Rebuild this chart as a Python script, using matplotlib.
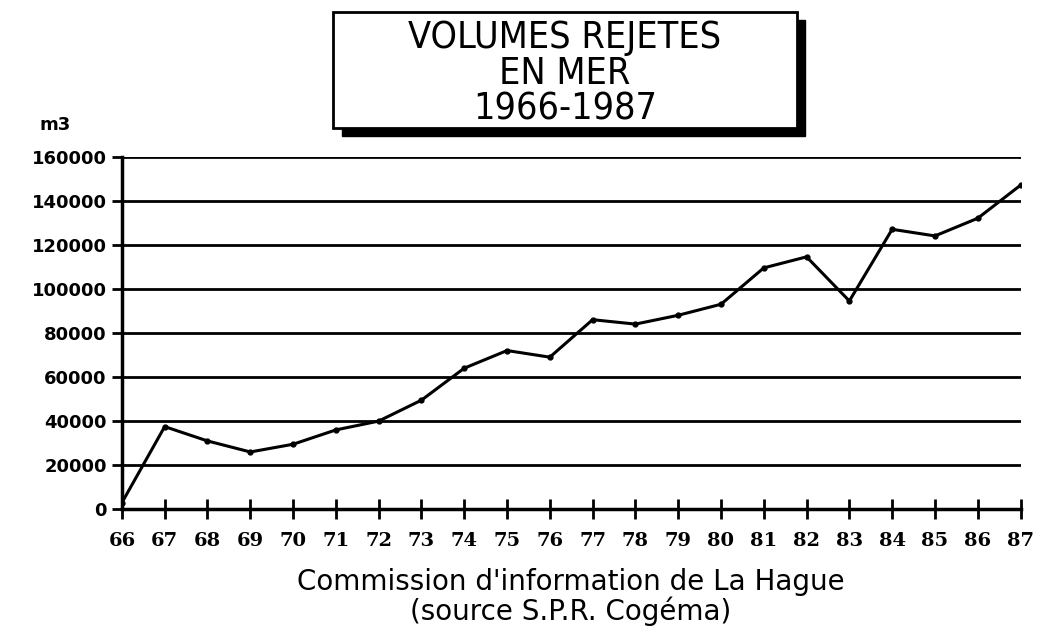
import matplotlib
matplotlib.use("Agg")
import matplotlib.pyplot as plt
from matplotlib.patches import Rectangle

# years (two-digit labels) and volumes released at sea, m3
years = list(range(66, 88))
year_labels = [str(y) for y in years]
volumes = [3000, 37500, 31000, 26000, 29500, 36000, 40000, 49500, 64000, 72000, 69000,
           86000, 84000, 88000, 93000, 109500, 114500, 94500, 127000, 124000, 132000, 147000]
y_ticks = [0, 20000, 40000, 60000, 80000, 100000, 120000, 140000, 160000]

title_lines = "VOLUMES REJETES\nEN MER\n1966-1987"
caption = "Commission d'information de La Hague\n(source S.P.R. Cogéma)"

fig = plt.figure(figsize=(10.51, 6.39), dpi=100)
ax = fig.add_axes([0.116, 0.203, 0.855, 0.552])

ax.plot(years, volumes, color="black", lw=2.2, marker="o", ms=3.5, zorder=3)

ax.set_xlim(years[0], years[-1])
ax.set_ylim(0, 160000)
ax.set_xticks(years)
ax.set_xticklabels(year_labels, fontsize=14, fontweight="bold", family="DejaVu Serif")
ax.set_yticks(y_ticks)
ax.set_yticklabels([str(v) for v in y_ticks], fontsize=13, fontweight="bold")
ax.tick_params(axis="x", direction="inout", length=14, width=2, pad=9)
ax.tick_params(axis="y", direction="out", length=7, width=2, pad=4)
ax.yaxis.grid(True, color="black", lw=2)
ax.set_axisbelow(True)
for side in ["top", "right"]:
    ax.spines[side].set_visible(False)
for side in ["left", "bottom"]:
    ax.spines[side].set_linewidth(2.5)

# unit label
fig.text(0.038, 0.79, "m3", fontsize=13, fontweight="bold", ha="left", va="bottom")

# boxed title with drop shadow
bx, by, bw, bh = 0.317, 0.8, 0.441, 0.181
fig.patches.append(Rectangle((bx + 0.008, by - 0.013), bw, bh, transform=fig.transFigure,
                             facecolor="black", edgecolor="black", zorder=1))
fig.patches.append(Rectangle((bx, by), bw, bh, transform=fig.transFigure,
                             facecolor="white", edgecolor="black", lw=2, zorder=2))
fig.text(bx + bw / 2, by + bh / 2 - 0.006, title_lines, ha="center", va="center",
         fontsize=27, linespacing=1.0, fontstretch="condensed",
         family=["DejaVu Sans"], zorder=3)

fig.text(0.543, 0.02, caption, ha="center", va="bottom", fontsize=20, linespacing=1.05)

fig.savefig("out.png", dpi=100)
